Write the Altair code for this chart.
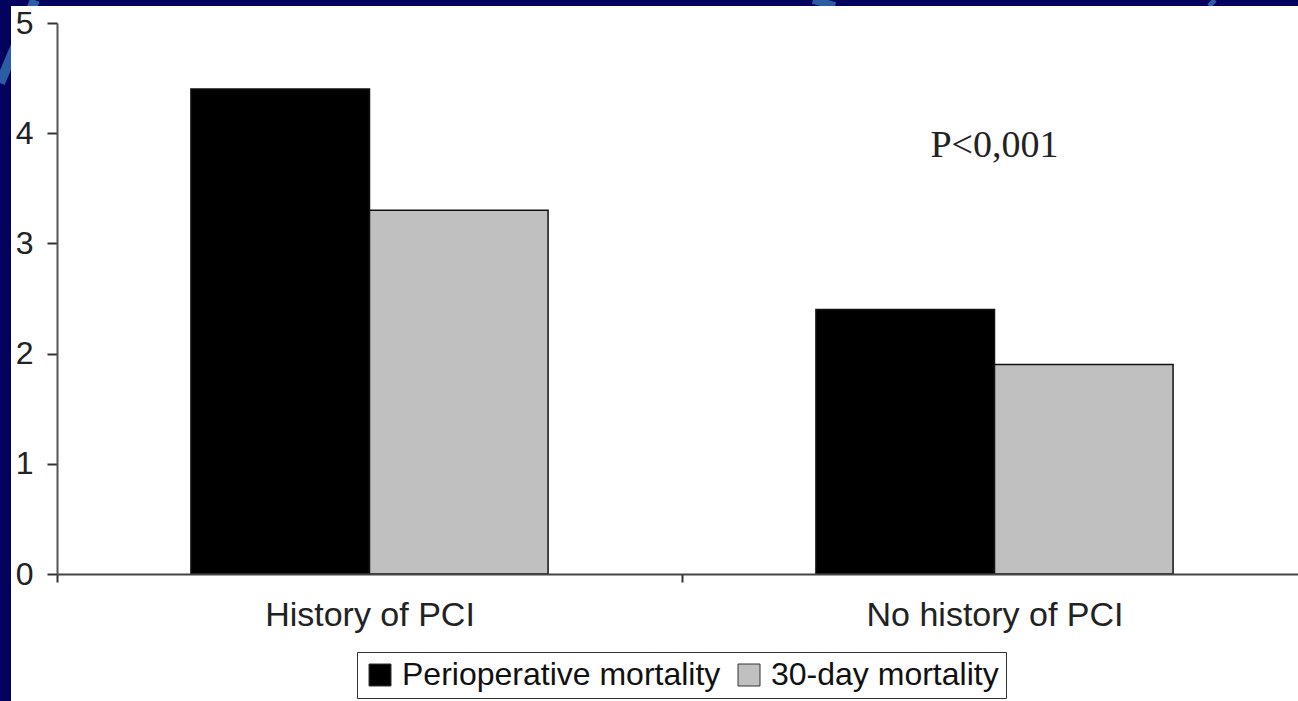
import altair as alt
import pandas as pd

# Mortality (%) by PCI history
groups = ["History of PCI", "No history of PCI"]
series = ["Perioperative mortality", "30-day mortality"]
perioperative = [4.4, 2.4]
thirty_day = [3.3, 1.9]
series_colors = ["#000000", "#c0c0c0"]
y_ticks = [0, 1, 2, 3, 4, 5]
p_label = "P<0,001"

rows = []
for g, a, b in zip(groups, perioperative, thirty_day):
    rows.append({"group": g, "series": series[0], "value": a})
    rows.append({"group": g, "series": series[1], "value": b})
df = pd.DataFrame(rows)

NAVY = "#03035f"
ARC = "#2c5ca3"
one = alt.Data(values=[{}])

# slide decoration: light arcs on the navy frame, then the white panel
arc_left = alt.Chart(one).mark_rule(color=ARC, strokeWidth=10).encode(
    x=alt.value(-22), y=alt.value(-23), x2=alt.value(-57), y2=alt.value(60)
)
arc_top1 = alt.Chart(one).mark_rule(color=ARC, strokeWidth=8).encode(
    x=alt.value(756), y=alt.value(-23), x2=alt.value(778), y2=alt.value(-17)
)
arc_top2 = alt.Chart(one).mark_rule(color=ARC, strokeWidth=5).encode(
    x=alt.value(1152), y=alt.value(-17), x2=alt.value(1158), y2=alt.value(-23)
)
panel = alt.Chart(one).mark_rect(color="white").encode(
    x=alt.value(-46), x2=alt.value(1250), y=alt.value(-17), y2=alt.value(690)
)

x_enc = alt.X(
    "group:N",
    sort=groups,
    scale=alt.Scale(range=[0, 1250], paddingInner=0, paddingOuter=0),
    axis=alt.Axis(
        title=None,
        labelAngle=0,
        tickBand="extent",
        tickSize=8,
        tickWidth=2,
        tickColor="#333",
        domainColor="#444",
        domainWidth=2,
        labelFont="Liberation Sans",
        labelFontSize=34,
        labelColor="#222",
        labelPadding=16,
        labelLimit=600,
        zindex=1,
    ),
)

bars = alt.Chart(df).mark_bar(stroke="#111", strokeWidth=1.5).encode(
    x=x_enc,
    xOffset=alt.XOffset(
        "series:N", sort=series,
        scale=alt.Scale(paddingInner=0, paddingOuter=0.75),
    ),
    y=alt.Y(
        "value:Q",
        scale=alt.Scale(domain=[0, 5], nice=False),
        axis=alt.Axis(
            title=None,
            values=y_ticks,
            grid=False,
            tickSize=10,
            tickWidth=2,
            tickColor="#333",
            domainColor="#555",
            domainWidth=2,
            labelFont="Liberation Sans",
            labelFontSize=32,
            labelColor="#222",
            labelPadding=14,
            zindex=1,
        ),
    ),
    color=alt.Color(
        "series:N",
        sort=series,
        scale=alt.Scale(domain=series, range=series_colors),
        legend=alt.Legend(
            title=None,
            orient="none",
            legendX=300,
            legendY=629,
            direction="horizontal",
            columns=2,
            strokeColor="#333",
            padding=7,
            symbolType="square",
            symbolSize=484,
            symbolStrokeColor="#333",
            symbolStrokeWidth=1,
            symbolOpacity=1,
            labelFont="Liberation Sans",
            labelFontSize=32,
            labelColor="#111",
            labelOffset=6,
            labelLimit=600,
            columnPadding=12,
            zindex=2,
        ),
    ),
)

note = alt.Chart(
    pd.DataFrame({"group": [groups[1]], "label": [p_label]})
).mark_text(
    font="Liberation Serif", fontSize=38, color="#222",
    align="center", baseline="alphabetic",
).encode(
    x=alt.X("group:N", sort=groups),
    y=alt.value(134),
    text="label:N",
)

chart = alt.layer(arc_left, arc_top1, arc_top2, panel, bars, note).properties(
    width=1241,
    height=551,
    background=NAVY,
    autosize=alt.AutoSizeParams(type="none"),
    padding={"left": 57, "top": 23, "right": 0, "bottom": 127},
).configure_view(stroke=None)

chart.save("out.html", embed_options={"renderer": "svg", "actions": False})
